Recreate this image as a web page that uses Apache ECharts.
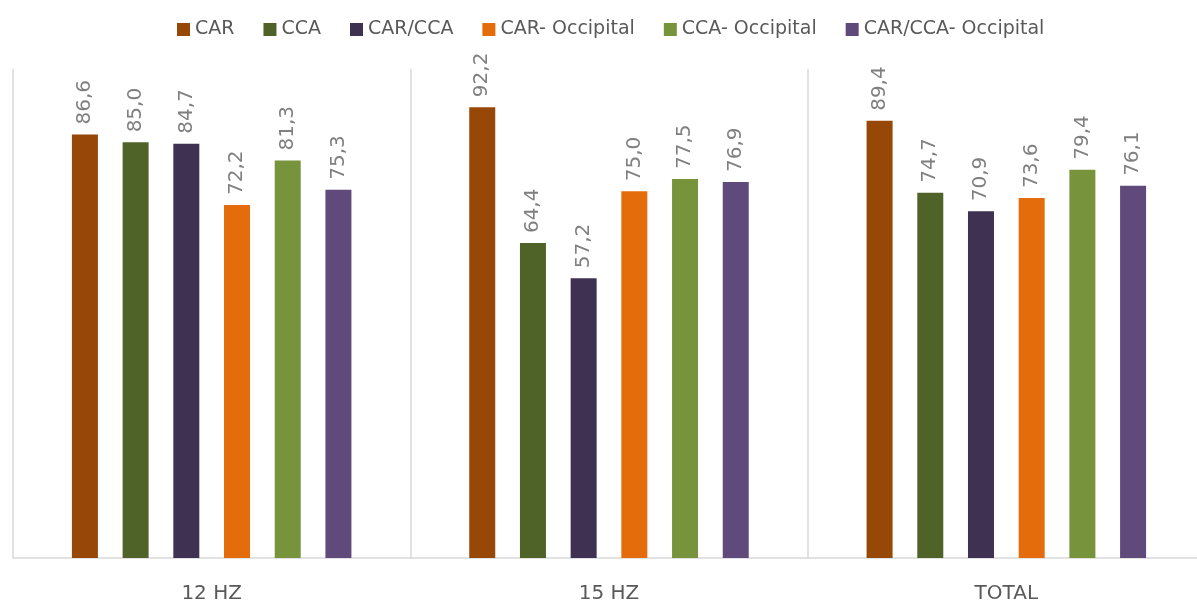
<!DOCTYPE html>
<html>
<head>
<meta charset="utf-8">
<script src="https://cdn.jsdelivr.net/npm/echarts@6/dist/echarts.min.js"></script>
<style>
  html, body { margin: 0; padding: 0; background: #fff; }
  #wrap { width: 1197px; height: 605px; overflow: hidden; position: relative; }
  #chart { width: 1230px; height: 605px; }
</style>
</head>
<body>
<div id="wrap"><div id="chart"></div></div>
<script>
const categories = ["12 HZ", "15 HZ", "TOTAL"];
const seriesNames = ["CAR", "CCA", "CAR/CCA", "CAR- Occipital", "CCA- Occipital", "CAR/CCA- Occipital"];
const carValues = [86.6, 92.2, 89.4];
const ccaValues = [85.0, 64.4, 74.7];
const carCcaValues = [84.7, 57.2, 70.9];
const carOccValues = [72.2, 75.0, 73.6];
const ccaOccValues = [81.3, 77.5, 79.4];
const carCcaOccValues = [75.3, 76.9, 76.1];
const colors = ["#974706", "#4f6228", "#3f3151", "#e46c0a", "#77933c", "#604a7b"];

const allValues = [carValues, ccaValues, carCcaValues, carOccValues, ccaOccValues, carCcaOccValues];

const chart = echarts.init(document.getElementById("chart"));
const font = "'DejaVu Sans', sans-serif";

const series = seriesNames.map((name, i) => ({
  name: name,
  type: "bar",
  data: allValues[i],
  barWidth: 26,
  barGap: "95%",
  itemStyle: { color: colors[i] },
  label: {
    show: true,
    position: "top",
    rotate: 90,
    align: "left",
    verticalAlign: "middle",
    distance: 10,
    color: "#7f7f7f",
    fontFamily: font,
    fontSize: 20,
    formatter: (p) => p.value.toFixed(1).replace(".", ",")
  }
}));

const option = {
  animation: false,
  color: colors,
  legend: {
    top: 15,
    left: 172,
    icon: "rect",
    itemWidth: 13,
    itemHeight: 13,
    itemGap: 29,
    textStyle: {
      color: "#595959",
      fontFamily: font,
      fontSize: 19
    },
    data: seriesNames
  },
  grid: {
    left: 13,
    top: 69,
    right: 25,
    bottom: 47,
    containLabel: false
  },
  xAxis: {
    type: "category",
    data: categories,
    axisTick: { show: false },
    axisLine: { lineStyle: { color: "#d9d9d9", width: 1.5 } },
    axisLabel: {
      color: "#595959",
      fontFamily: font,
      fontSize: 20,
      margin: 26
    },
    splitLine: { show: true, lineStyle: { color: "#d9d9d9", width: 1.5 } }
  },
  yAxis: {
    type: "value",
    min: 0,
    max: 100,
    show: false,
    splitLine: { show: false }
  },
  series: series
};

chart.setOption(option);
window.addEventListener("resize", () => {
  chart && chart.resize();
});
</script>
</body>
</html>
